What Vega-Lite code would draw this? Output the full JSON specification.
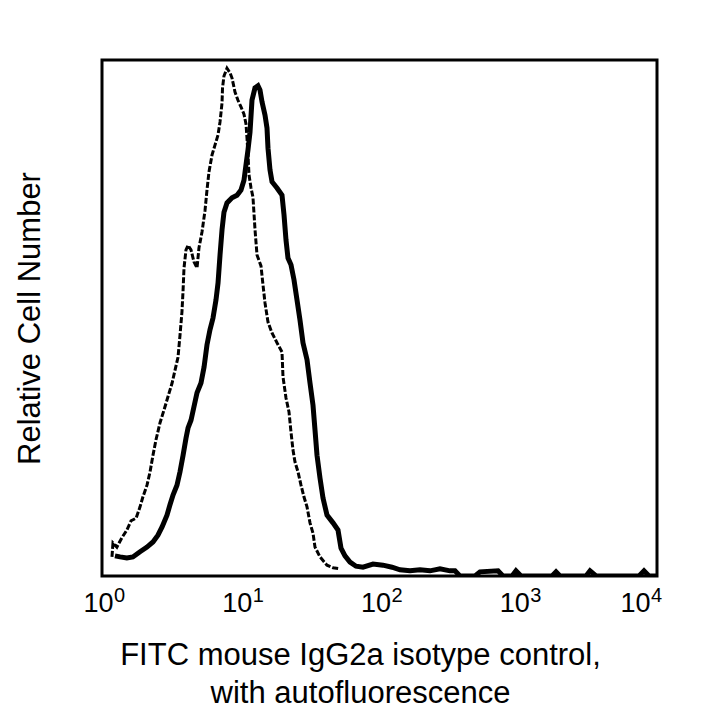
{
  "$schema": "https://vega.github.io/schema/vega-lite/v6.json",
  "width": 555,
  "height": 516,
  "autosize": "none",
  "padding": {"left": 102, "top": 60, "right": 63, "bottom": 144},
  "background": "white",
  "config": {
    "view": {"stroke": "black", "strokeWidth": 3},
    "font": "Liberation Sans"
  },
  "datasets": {
    "thin": [
      {"x": 1.18, "y": 3.7}, {"x": 1.20, "y": 6.4}, {"x": 1.28, "y": 5.6}, {"x": 1.39, "y": 7.4},
      {"x": 1.51, "y": 8.9}, {"x": 1.62, "y": 10.7}, {"x": 1.76, "y": 11.2}, {"x": 1.88, "y": 13.4},
      {"x": 1.97, "y": 15.3}, {"x": 2.11, "y": 17.6}, {"x": 2.22, "y": 20.2}, {"x": 2.33, "y": 23.4},
      {"x": 2.45, "y": 26.4}, {"x": 2.62, "y": 29.7}, {"x": 2.80, "y": 32.2}, {"x": 2.94, "y": 34.1},
      {"x": 3.20, "y": 37.4}, {"x": 3.36, "y": 39.9}, {"x": 3.53, "y": 42.4}, {"x": 3.65, "y": 46.7},
      {"x": 3.77, "y": 51.2}, {"x": 3.84, "y": 55.4}, {"x": 3.90, "y": 59.7}, {"x": 4.03, "y": 63.2},
      {"x": 4.17, "y": 64.1}, {"x": 4.38, "y": 63.2}, {"x": 4.60, "y": 60.9}, {"x": 4.84, "y": 59.7},
      {"x": 5.00, "y": 63.6}, {"x": 5.26, "y": 66.7}, {"x": 5.53, "y": 70.9}, {"x": 5.71, "y": 74.8},
      {"x": 5.90, "y": 78.3}, {"x": 6.21, "y": 81.6}, {"x": 6.52, "y": 83.5}, {"x": 6.86, "y": 85.5},
      {"x": 7.09, "y": 88.0}, {"x": 7.33, "y": 91.7}, {"x": 7.39, "y": 94.6}, {"x": 7.57, "y": 96.9},
      {"x": 7.96, "y": 98.4}, {"x": 8.37, "y": 97.5}, {"x": 8.65, "y": 96.5}, {"x": 9.09, "y": 93.8},
      {"x": 9.55, "y": 92.2}, {"x": 10.04, "y": 90.9}, {"x": 10.55, "y": 89.5}, {"x": 10.91, "y": 87.6},
      {"x": 11.09, "y": 84.9}, {"x": 11.28, "y": 81.6}, {"x": 11.47, "y": 77.7}, {"x": 11.86, "y": 75.2},
      {"x": 12.25, "y": 73.4}, {"x": 12.67, "y": 67.1}, {"x": 13.10, "y": 62.2}, {"x": 13.99, "y": 60.1},
      {"x": 14.47, "y": 56.4}, {"x": 14.96, "y": 52.9}, {"x": 15.72, "y": 49.2}, {"x": 16.80, "y": 47.1},
      {"x": 18.25, "y": 45.2}, {"x": 19.83, "y": 43.4}, {"x": 20.16, "y": 38.6}, {"x": 21.19, "y": 34.5},
      {"x": 22.27, "y": 31.8}, {"x": 23.02, "y": 27.9}, {"x": 23.80, "y": 24.4}, {"x": 24.60, "y": 22.1},
      {"x": 25.85, "y": 20.2}, {"x": 27.18, "y": 17.6}, {"x": 28.57, "y": 15.3}, {"x": 30.03, "y": 13.4},
      {"x": 31.56, "y": 10.3}, {"x": 33.17, "y": 8.3}, {"x": 34.29, "y": 5.6}, {"x": 37.25, "y": 3.7},
      {"x": 41.84, "y": 2.1}, {"x": 46.23, "y": 1.6}, {"x": 51.92, "y": 1.4}
    ],
    "thick": [
      {"x": 1.24, "y": 3.9}, {"x": 1.35, "y": 3.7}, {"x": 1.51, "y": 3.5}, {"x": 1.67, "y": 3.7},
      {"x": 1.88, "y": 4.7}, {"x": 2.11, "y": 5.6}, {"x": 2.33, "y": 6.6}, {"x": 2.53, "y": 7.9},
      {"x": 2.71, "y": 9.5}, {"x": 2.94, "y": 11.8}, {"x": 3.09, "y": 13.8}, {"x": 3.25, "y": 15.7},
      {"x": 3.47, "y": 17.6}, {"x": 3.65, "y": 20.2}, {"x": 3.84, "y": 23.4}, {"x": 4.03, "y": 26.7},
      {"x": 4.17, "y": 28.7}, {"x": 4.38, "y": 30.2}, {"x": 4.60, "y": 32.8}, {"x": 4.84, "y": 35.5},
      {"x": 5.17, "y": 37.4}, {"x": 5.44, "y": 40.5}, {"x": 5.71, "y": 44.8}, {"x": 6.00, "y": 47.7},
      {"x": 6.31, "y": 50.0}, {"x": 6.63, "y": 53.5}, {"x": 6.86, "y": 56.8}, {"x": 7.09, "y": 62.2},
      {"x": 7.33, "y": 67.1}, {"x": 7.57, "y": 70.5}, {"x": 7.96, "y": 72.3}, {"x": 8.65, "y": 73.3},
      {"x": 9.40, "y": 73.8}, {"x": 10.04, "y": 74.8}, {"x": 10.55, "y": 76.7}, {"x": 10.91, "y": 79.7},
      {"x": 11.28, "y": 82.6}, {"x": 11.66, "y": 86.0}, {"x": 12.05, "y": 92.2}, {"x": 12.67, "y": 94.6},
      {"x": 13.31, "y": 95.0}, {"x": 13.76, "y": 94.2}, {"x": 14.23, "y": 91.9}, {"x": 14.96, "y": 89.3},
      {"x": 15.46, "y": 86.8}, {"x": 15.72, "y": 82.9}, {"x": 16.25, "y": 78.7}, {"x": 16.80, "y": 76.4},
      {"x": 18.25, "y": 75.2}, {"x": 19.83, "y": 73.8}, {"x": 20.50, "y": 70.0}, {"x": 21.19, "y": 65.1},
      {"x": 21.90, "y": 61.6}, {"x": 23.02, "y": 60.3}, {"x": 24.20, "y": 57.4}, {"x": 25.43, "y": 53.5},
      {"x": 26.73, "y": 49.6}, {"x": 28.09, "y": 45.2}, {"x": 30.03, "y": 41.9}, {"x": 31.56, "y": 37.4},
      {"x": 33.17, "y": 33.1}, {"x": 34.29, "y": 28.3}, {"x": 35.45, "y": 23.4}, {"x": 37.25, "y": 19.0},
      {"x": 39.16, "y": 15.1}, {"x": 41.84, "y": 11.8}, {"x": 46.23, "y": 10.3}, {"x": 50.22, "y": 8.9},
      {"x": 52.79, "y": 5.4}, {"x": 56.41, "y": 3.9}, {"x": 61.29, "y": 2.7}, {"x": 67.71, "y": 1.9},
      {"x": 76.04, "y": 1.7}, {"x": 89.81, "y": 2.3}, {"x": 105.9, "y": 2.1}, {"x": 123.1, "y": 1.7},
      {"x": 140.5, "y": 1.2}, {"x": 165.9, "y": 1.0}, {"x": 195.9, "y": 1.2}, {"x": 231.2, "y": 1.0},
      {"x": 272.9, "y": 1.4}, {"x": 322.3, "y": 1.0}, {"x": 350, "y": 1.0}, {"x": 380, "y": 0},
      {"x": 488, "y": 0}, {"x": 530, "y": 0.8}, {"x": 715, "y": 1.0}, {"x": 776, "y": 0},
      {"x": 902, "y": 0}, {"x": 963, "y": 1.0}, {"x": 1047, "y": 0}, {"x": 1751, "y": 0},
      {"x": 1872, "y": 0.8}, {"x": 2000, "y": 0}, {"x": 3078, "y": 0}, {"x": 3290, "y": 1.0},
      {"x": 3635, "y": 0}, {"x": 7420, "y": 0}, {"x": 8060, "y": 1.0}, {"x": 8756, "y": 0},
      {"x": 10000, "y": 0}
    ],
    "exponents": [
      {"x": 1, "y": 0, "e": "0"}, {"x": 10, "y": 0, "e": "1"}, {"x": 100, "y": 0, "e": "2"},
      {"x": 1000, "y": 0, "e": "3"}
    ],
    "lastexp": [
      {"x": 10000, "y": 0, "e": "4"}
    ]
  },
  "encoding": {
    "x": {
      "field": "x", "type": "quantitative",
      "scale": {"type": "log", "domain": [1, 10000], "nice": false},
      "axis": {
        "values": [1, 10, 100, 1000, 10000],
        "labelExpr": "'10'",
        "labelFontSize": 27,
        "labelColor": "black",
        "labelPadding": 14,
        "labelAlign": "right",
        "labelOffset": {"condition": {"test": "datum.value >= 10000", "value": -7}, "value": 11},
        "ticks": false,
        "domain": false,
        "grid": false,
        "title": ["FITC mouse IgG2a isotype control,", "with autofluorescence"],
        "titleFontSize": 31,
        "titleFontWeight": "normal",
        "titleColor": "black",
        "titleLineHeight": 38,
        "titlePadding": 24,
        "titleX": 258
      }
    },
    "y": {
      "field": "y", "type": "quantitative",
      "scale": {"domain": [0, 100], "nice": false},
      "axis": {
        "labels": false, "ticks": false, "domain": false, "grid": false,
        "title": "Relative Cell Number",
        "titleFontSize": 31,
        "titleFontWeight": "normal",
        "titleColor": "black",
        "titlePadding": 56
      }
    }
  },
  "layer": [
    {
      "data": {"name": "thin"},
      "mark": {"type": "line", "color": "black", "strokeWidth": 3, "strokeDash": [6, 2], "clip": true}
    },
    {
      "data": {"name": "thick"},
      "mark": {"type": "line", "color": "black", "strokeWidth": 5, "clip": true}
    },
    {
      "data": {"name": "exponents"},
      "mark": {"type": "text", "fontSize": 20, "align": "left", "baseline": "alphabetic", "dx": 12, "dy": 26, "color": "black"},
      "encoding": {"text": {"field": "e"}}
    },
    {
      "data": {"name": "lastexp"},
      "mark": {"type": "text", "fontSize": 20, "align": "left", "baseline": "alphabetic", "dx": -6, "dy": 26, "color": "black"},
      "encoding": {"text": {"field": "e"}}
    }
  ]
}
